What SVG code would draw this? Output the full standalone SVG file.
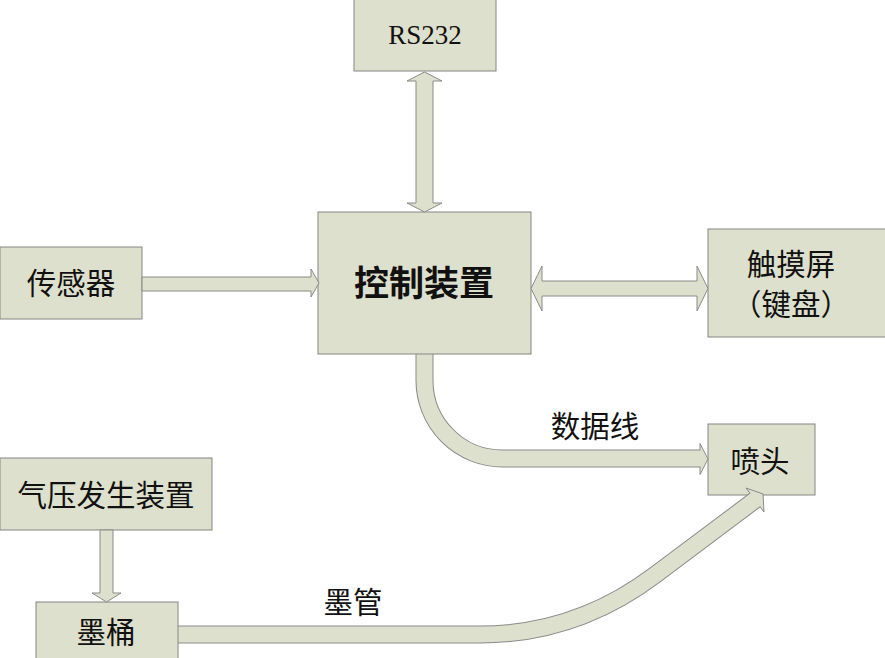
<svg xmlns="http://www.w3.org/2000/svg" width="885" height="658" viewBox="0 0 885 658">
<style>
.box{fill:#dde0cc;stroke:#858585;stroke-width:1}
.t{font-family:"Noto Sans CJK SC","Noto Sans",sans-serif;font-size:29.5px;fill:#111;text-anchor:middle;dominant-baseline:central}
.tb{font-weight:bold;font-size:35px}
.lat{font-family:"Liberation Serif",serif;font-size:27px}
.arr{fill:#dde0cc;stroke:#8a8a8a;stroke-width:1;stroke-linejoin:miter}
.so{fill:none;stroke:#8a8a8a;stroke-width:18}
.si{fill:none;stroke:#dde0cc;stroke-width:16}
</style>
<rect width="885" height="658" fill="#fff"/>
<g id="rs232"><rect class="box" x="354" y="-1" width="142" height="72"/><text class="t lat" x="425" y="35">RS232</text></g>
<g id="control"><rect class="box" x="318" y="212" width="213" height="142"/><text class="t tb" x="424" y="280">控制装置</text></g>
<g id="sensor"><rect class="box" x="0" y="247" width="142" height="72"/><text class="t" x="71" y="281">传感器</text></g>
<g id="touch"><rect class="box" x="708" y="229" width="178" height="108"/><text class="t" x="791" y="262">触摸屏</text><text class="t" x="791" y="302">（键盘）</text></g>
<g id="nozzle"><rect class="box" x="708" y="424" width="107" height="71"/><text class="t" x="760" y="459">喷头</text></g>
<g id="air"><rect class="box" x="0" y="458" width="212" height="72"/><text class="t" x="106" y="493">气压发生装置</text></g>
<g id="barrel"><rect class="box" x="36" y="602" width="142" height="57"/><text class="t" x="106" y="630">墨桶</text></g>
<g id="connectors">
<polygon class="arr" points="424.5,72 442,81 433,81 433,203 442,203 424.5,212 407,203 416,203 416,81 407,81"/>
<polygon class="arr" points="142,277 311,277 311,269 319,283 311,297 311,291 142,291"/>
<polygon class="arr" points="531,288.5 542,266 542,281 697,281 697,266 708,288.5 697,311 697,296 542,296 542,311"/>
<polygon class="arr" points="100,530 113,530 113,593 121,593 106.5,602 92,593 100,593"/>
<path class="so" d="M424.5,354 V380 A78,78 0 0 0 502.5,458.5 H700"/>
<polygon class="arr" points="700,443.5 708,459 700,474.5"/>
<path class="si" d="M424.5,354.5 V380 A78,78 0 0 0 502.5,458.5 H701"/>
<path class="so" d="M178,634.5 H480 Q576,634.5 655,575 L755,500"/>
<polygon class="arr" points="746,488 763,494 764,512"/>
<path class="si" d="M178.5,634.5 H480 Q576,634.5 655,575 L755.8,499.4"/>
<text class="t" x="595" y="424">数据线</text>
<text class="t" x="353" y="600">墨管</text>
</g>
</svg>
